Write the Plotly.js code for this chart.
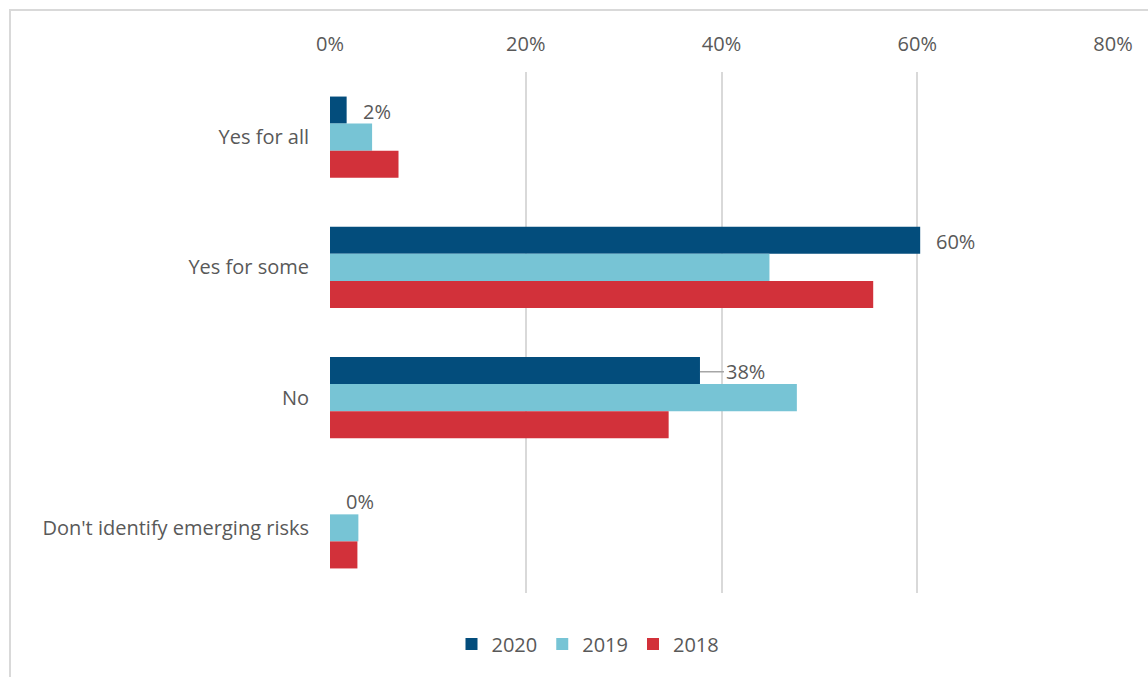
<!DOCTYPE html>
<html>
<head>
<meta charset="utf-8">
<script src="https://cdn.plot.ly/plotly-3.0.1.min.js"></script>
<style>
  html, body { margin: 0; padding: 0; background: #ffffff; }
  #chart { width: 1148px; height: 677px; }
</style>
</head>
<body>
<div id="chart"></div>
<script>
const categories = ["Yes for all", "Yes for some", "No", "Don't identify emerging risks"];
const seriesNames = ["2020", "2019", "2018"];
const values2020 = [0.017, 0.603, 0.378, 0.0];
const values2019 = [0.043, 0.449, 0.477, 0.029];
const values2018 = [0.070, 0.555, 0.346, 0.028];
const colors = ["#034d7c", "#77c4d5", "#d2313a"];
const tickVals = [0, 0.2, 0.4, 0.6, 0.8];
const tickText = ["0%", "20%", "40%", "60%", "80%"];

const fontFamily = "'Open Sans', sans-serif";
const fontSize = 20;
const textColor = "#595959";

const allSeries = [values2020, values2019, values2018];
const traces = allSeries.map((vals, i) => ({
  type: "bar",
  orientation: "h",
  name: seriesNames[i],
  x: vals,
  y: categories,
  marker: { color: colors[i] },
  hoverinfo: "x+y+name"
}));

// data labels for 2020 series
const barPx = 27;
const annotations = values2020.map((v, i) => {
  const label = Math.round(v * 100) + "%";
  const leader = (i === 2);
  const a = {
    x: v, y: categories[i], xref: "x", yref: "y",
    text: label, xanchor: "left", yanchor: "middle",
    yshift: barPx - 1,
    font: { family: fontFamily, size: fontSize, color: textColor },
    showarrow: leader
  };
  if (leader) {
    a.ax = 24; a.ay = 0; a.axref = "pixel"; a.ayref = "pixel";
    a.arrowhead = 0; a.arrowwidth = 1.5; a.arrowcolor = "#a6a6a6"; a.standoff = 0;
    a.xshift = 0;
  } else {
    a.xshift = 14;
  }
  return a;
});

const L = 330, R = 35, T = 72, B = 84;
const W = 1148, H = 677;
const pw = W - L - R, ph = H - T - B;
const px = (p) => (p - L) / pw;
const py = (p) => (H - B - p) / ph;

const layout = {
  width: W, height: H,
  margin: { l: L, r: R, t: T, b: B },
  paper_bgcolor: "#ffffff",
  plot_bgcolor: "#ffffff",
  barmode: "group",
  bargap: 0.377,
  bargroupgap: 0,
  font: { family: fontFamily, size: fontSize, color: textColor },
  xaxis: {
    side: "top",
    range: [0, 0.8],
    tickvals: tickVals,
    ticktext: tickText,
    showgrid: true,
    gridcolor: "#d9d9d9",
    gridwidth: 2,
    zeroline: false,
    showline: false,
    ticks: "",
    ticklabelstandoff: 16,
    tickfont: { family: fontFamily, size: fontSize, color: textColor },
    fixedrange: true
  },
  yaxis: {
    type: "category",
    autorange: "reversed",
    showgrid: false,
    zeroline: false,
    showline: false,
    ticks: "",
    ticklabelstandoff: 20,
    tickfont: { family: fontFamily, size: fontSize, color: textColor },
    fixedrange: true
  },
  legend: {
    orientation: "h",
    x: px(588), xanchor: "center",
    y: py(644), yanchor: "middle",
    font: { family: fontFamily, size: fontSize, color: textColor },
    itemwidth: 30,
    traceorder: "normal"
  },
  annotations: annotations,
  shapes: [{
    type: "path", xref: "paper", yref: "paper",
    path: `M ${px(10)} ${py(690)} L ${px(10)} ${py(10)} L ${px(1160)} ${py(10)}`,
    line: { color: "#d9d9d9", width: 2 }
  }],
  showlegend: true
};

Plotly.newPlot("chart", traces, layout, { displayModeBar: false, staticPlot: false });
</script>
</body>
</html>
